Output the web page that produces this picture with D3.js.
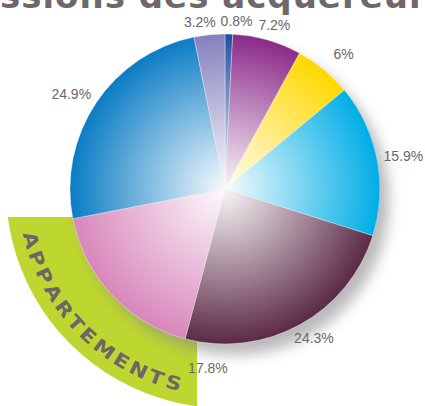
<!DOCTYPE html>
<html><head><meta charset="utf-8">
<script src="https://cdn.jsdelivr.net/npm/d3@7"></script>
<style>html,body{margin:0;padding:0;background:#fff;overflow:hidden}</style>
</head><body>
<svg id="chart" width="425" height="406"></svg>
<script>
// ---- data ----
const categories = ["Catégorie A","Catégorie B","Catégorie C","Catégorie D","Catégorie E","Catégorie F","Catégorie G","Catégorie H"];
const values = [0.8, 7.2, 6, 15.9, 24.3, 17.8, 24.9, 3.2];
const valueLabels = ["0.8%","7.2%","6%","15.9%","24.3%","17.8%","24.9%","3.2%"];
const colors = ["#1d4f9e","#8b2a88","#ffd800","#00ade6","#5b2946","#d886bb","#0a7cc4","#8580bd"];
const titleText = "Professions des acquéreurs";
const bandText = "APPARTEMENTS";

// ---- layout (not data) ----
const W = 425, H = 406, cx = 225, cy = 189, R = 155;
const labelNudge = [[7,4],[0,1],[7,-3],[-3,0],[0,-1],[118,62],[0,0],[-7,4]];
const grey = "#6d6568";

const svg = d3.select("#chart");
const defs = svg.append("defs");

// title (cropped at top)
const title = svg.append("text")
  .attr("y", 8)
  .attr("font-family", "DejaVu Sans").attr("font-weight", "bold")
  .attr("font-size", 34).attr("letter-spacing", 1).attr("fill", "#6f6769")
  .text(titleText);
const pre = title.node().getSubStringLength(0, 5);
title.attr("x", -pre);

// shadow filter
const f = defs.append("filter").attr("id","blur").attr("x","-20%").attr("y","-20%").attr("width","140%").attr("height","140%");
f.append("feGaussianBlur").attr("stdDeviation", 7);

// green band
const clip = defs.append("clipPath").attr("id","bandClip");
clip.append("rect").attr("x",0).attr("y",217).attr("width",197).attr("height",H-217);
const bandArc = d3.arc().innerRadius(R-5).outerRadius(219).startAngle(Math.PI*0.9).endAngle(Math.PI*1.6);
svg.append("g").attr("clip-path","url(#bandClip)")
  .append("path").attr("transform",`translate(${cx},${cy})`)
  .attr("d", bandArc()).attr("fill","#bdd630");

// shadow
svg.append("circle").attr("cx", cx+9).attr("cy", cy+11).attr("r", R)
  .attr("fill","#8a8a8a").attr("opacity",0.6).attr("filter","url(#blur)");

// pie
const g = svg.append("g").attr("transform",`translate(${cx},${cy})`);
const pie = d3.pie().sort(null).value(d=>d);
const arcs = pie(values);
const arc = d3.arc().innerRadius(0).outerRadius(R);

colors.forEach((c,i)=>{
  const gr = defs.append("radialGradient").attr("id","grad"+i)
    .attr("gradientUnits","userSpaceOnUse").attr("cx",0).attr("cy",0).attr("r",R);
  gr.append("stop").attr("offset",0).attr("stop-color", d3.interpolateRgb("#ffffff", c)(0.04));
  gr.append("stop").attr("offset",0.12).attr("stop-color", d3.interpolateRgb("#ffffff", c)(0.15));
  gr.append("stop").attr("offset",1).attr("stop-color", c);
});

g.selectAll("path.slice").data(arcs).enter().append("path")
  .attr("class","slice")
  .attr("d", arc)
  .attr("fill",(d,i)=>`url(#grad${i})`)
  .attr("stroke","#ffffff").attr("stroke-width",0.5).attr("stroke-opacity",0.7);

// labels
const labelArc = d3.arc().innerRadius(165).outerRadius(165);
g.selectAll("text.lab").data(arcs).enter().append("text")
  .attr("class","lab")
  .attr("font-family","Liberation Sans").attr("font-size",14)
  .attr("fill", grey).attr("text-anchor","middle").attr("dy","0.35em")
  .text((d,i)=>valueLabels[i])
  .each(function(d,i){
    const [px,py] = labelArc.centroid(d);
    const a = (d.startAngle+d.endAngle)/2;
    const w = this.getComputedTextLength();
    const x = px + Math.sin(a)*w/2 + labelNudge[i][0];
    const y = py - Math.cos(a)*6.5 + labelNudge[i][1];
    d3.select(this).attr("x", x).attr("y", y);
  });

// curved band text
const bandG = svg.append("g").attr("transform",`translate(${cx},${cy})`);
const rb = 207, sx = 1.18, fs = 18.5, totalLen = 234, theta0 = 257.5*Math.PI/180;
const chars = bandText.split("");
const widths = chars.map(ch=>{
  const t = bandG.append("text").attr("font-family","DejaVu Sans").attr("font-weight","bold").attr("font-size",fs).text(ch);
  const w = t.node().getComputedTextLength(); t.remove(); return w*sx;
});
const gap = (totalLen - d3.sum(widths)) / (chars.length - 1);
let s = 0;
chars.forEach((ch,i)=>{
  const th = theta0 - (s + widths[i]/2)/rb;
  const x = rb*Math.sin(th), y = -rb*Math.cos(th);
  bandG.append("text").attr("font-family","DejaVu Sans").attr("font-weight","bold").attr("font-size",fs)
    .attr("fill", grey).attr("text-anchor","middle")
    .attr("transform",`translate(${x},${y}) rotate(${th*180/Math.PI-180}) scale(${sx},1)`)
    .text(ch);
  s += widths[i] + gap;
});
</script>
</body></html>
